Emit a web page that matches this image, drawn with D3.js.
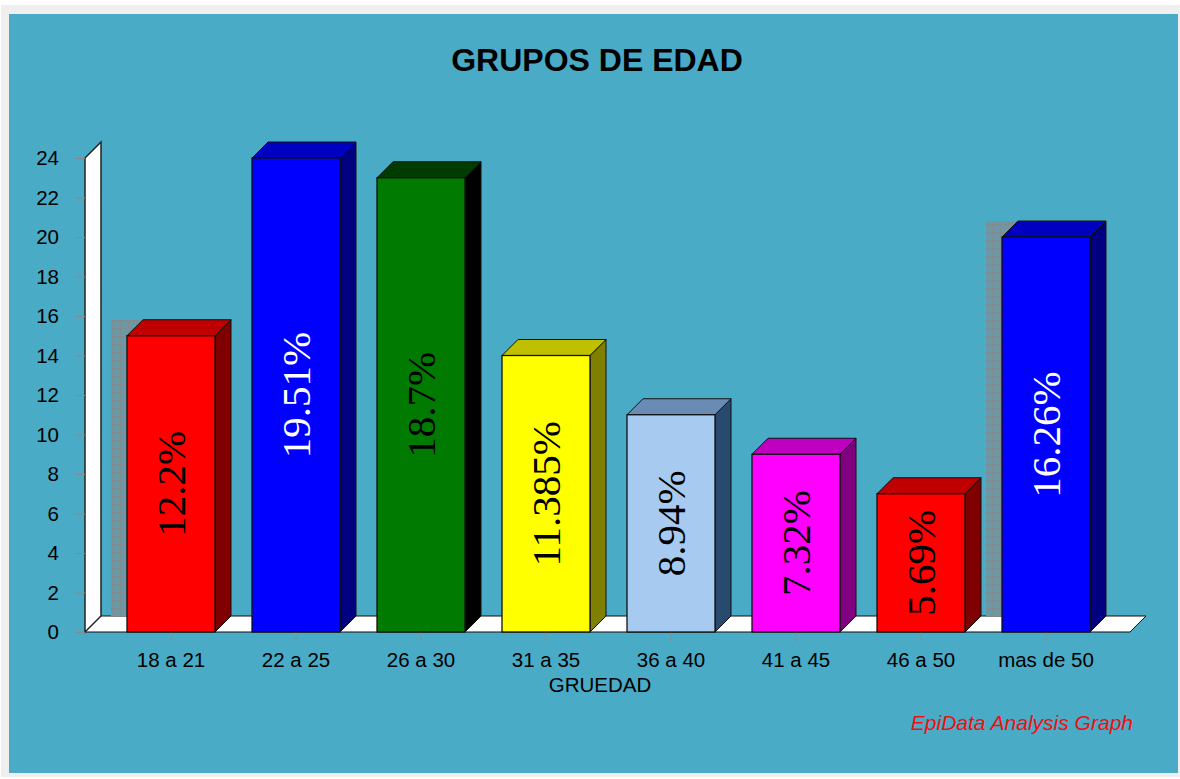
<!DOCTYPE html>
<html>
<head>
<meta charset="utf-8">
<script src="https://cdn.jsdelivr.net/npm/d3@7"></script>
<style>
  html, body { margin: 0; padding: 0; background: #ffffff; }
  svg { display: block; }
</style>
</head>
<body>
<svg id="chart" width="1180" height="779"></svg>
<script>
// data
const categories = ["18 a 21", "22 a 25", "26 a 30", "31 a 35", "36 a 40", "41 a 45", "46 a 50", "mas de 50"];
const counts = [15, 24, 23, 14, 11, 9, 7, 20];
const percentLabels = ["12.2%", "19.51%", "18.7%", "11.385%", "8.94%", "7.32%", "5.69%", "16.26%"];
const yTicks = [0, 2, 4, 6, 8, 10, 12, 14, 16, 18, 20, 22, 24];

// bar palette: front, top, side, label colour
const frontColors = ["#ff0000", "#0000ff", "#007a00", "#ffff00", "#a6caf0", "#ff00ff", "#ff0000", "#0000ff"];
const topColors = ["#c00000", "#0000c0", "#003c00", "#c0c000", "#6a8cb4", "#c000c0", "#c00000", "#0000c0"];
const sideColors = ["#800000", "#000080", "#000000", "#808000", "#284a6e", "#800080", "#800000", "#000080"];
const labelColors = ["#000", "#fff", "#000", "#000", "#000", "#000", "#000", "#fff"];

const svg = d3.select("#chart");
const depth = 16;
const floorY = 632;

// frame
svg.append("rect").attr("x", 1).attr("y", 5).attr("width", 1179).attr("height", 772).attr("fill", "#efefef");
svg.append("rect").attr("x", 9).attr("y", 14).attr("width", 1169).attr("height", 759).attr("fill", "#4aabc6");

svg.append("text")
    .attr("x", 597).attr("y", 71)
    .attr("text-anchor", "middle")
    .style("font-family", "'Liberation Sans', Arial, sans-serif")
    .style("font-weight", "bold")
    .style("font-size", "32px")
    .text("GRUPOS DE EDAD");

const x = d3.scaleBand()
    .domain(categories)
    .range([108.5, 1108.5])
    .paddingInner(0.296)
    .paddingOuter(0.148);

const y = d3.scaleLinear()
    .domain([0, 24])
    .range([floorY, 158]);

const line = d3.line();

// floor
svg.append("path")
    .attr("d", line([[85, floorY], [85 + depth, floorY - depth], [1130 + depth, floorY - depth], [1130, floorY]]) + "Z")
    .attr("fill", "#fff").attr("stroke", "#111").attr("stroke-width", 1);

// left wall
svg.append("path")
    .attr("d", line([[85, floorY], [85, y(24)], [85 + depth, y(24) - depth], [85 + depth, floorY - depth]]) + "Z")
    .attr("fill", "#fff").attr("stroke", "#222").attr("stroke-width", 1.5);

// y axis
const yAxis = svg.append("g")
    .attr("transform", "translate(85,0)")
    .call(d3.axisLeft(y).tickValues(yTicks).tickSize(10).tickPadding(16));
yAxis.select(".domain").remove();
yAxis.selectAll(".tick line").attr("stroke", "#8a8a8a");
yAxis.selectAll(".tick text")
    .attr("fill", "#000")
    .style("font-family", "'Liberation Sans', Arial, sans-serif")
    .style("font-size", "20.5px");

// x axis
const xAxis = svg.append("g")
    .attr("transform", `translate(0,${floorY})`)
    .call(d3.axisBottom(x).tickSize(10).tickPadding(10));
xAxis.select(".domain").remove();
xAxis.selectAll(".tick line").attr("stroke", "#8a8a8a");
xAxis.selectAll(".tick text")
    .attr("fill", "#000")
    .style("font-family", "'Liberation Sans', Arial, sans-serif")
    .style("font-size", "20.5px");

svg.append("text")
    .attr("x", 600).attr("y", 692)
    .attr("text-anchor", "middle")
    .style("font-family", "'Liberation Sans', Arial, sans-serif")
    .style("font-size", "20.5px")
    .text("GRUEDAD");

// shadow pattern on the back plane
const defs = svg.append("defs");
const pat = defs.append("pattern")
    .attr("id", "shade").attr("patternUnits", "userSpaceOnUse")
    .attr("width", 8).attr("height", 8);
pat.append("rect").attr("width", 8).attr("height", 8).attr("fill", "#6a98a6");
pat.append("path").attr("d", "M0,0.5H8M0.5,0V8").attr("stroke", "#808c90").attr("stroke-width", 1);

const bars = categories.map((c, i) => ({ cat: c, value: counts[i], label: percentLabels[i], i }));
const w = x.bandwidth();

svg.selectAll(".shadow")
    .data(bars.filter(d => d.i === 0 || d.i === bars.length - 1))
    .join("rect")
    .attr("class", "shadow")
    .attr("x", d => x(d.cat) - depth)
    .attr("y", d => y(d.value) - depth)
    .attr("width", w)
    .attr("height", d => floorY - depth - (y(d.value) - depth))
    .attr("fill", "url(#shade)");

const g = svg.selectAll(".bar")
    .data(bars)
    .join("g")
    .attr("class", "bar");

g.append("path")
    .attr("d", d => {
        const x0 = x(d.cat) + w, yv = y(d.value);
        return line([[x0, yv], [x0 + depth, yv - depth], [x0 + depth, floorY - depth], [x0, floorY]]) + "Z";
    })
    .attr("fill", d => sideColors[d.i])
    .attr("stroke", "#111").attr("stroke-width", 1);

g.append("path")
    .attr("d", d => {
        const x0 = x(d.cat), yv = y(d.value);
        return line([[x0, yv], [x0 + depth, yv - depth], [x0 + w + depth, yv - depth], [x0 + w, yv]]) + "Z";
    })
    .attr("fill", d => topColors[d.i])
    .attr("stroke", "#111").attr("stroke-width", 1);

g.append("rect")
    .attr("x", d => x(d.cat))
    .attr("y", d => y(d.value))
    .attr("width", w)
    .attr("height", d => floorY - y(d.value))
    .attr("fill", d => frontColors[d.i])
    .attr("stroke", "#111").attr("stroke-width", 1.3);

g.append("text")
    .attr("transform", d => `translate(${x(d.cat) + w / 2},${(y(d.value) + floorY) / 2}) rotate(-90)`)
    .attr("text-anchor", "middle")
    .attr("dy", "0.34em")
    .attr("fill", d => labelColors[d.i])
    .style("font-family", "'Liberation Serif', 'Times New Roman', serif")
    .style("font-size", "41px")
    .text(d => d.label);

svg.append("text")
    .attr("x", 1133).attr("y", 730)
    .attr("text-anchor", "end")
    .attr("fill", "#ee1010")
    .style("font-family", "'Liberation Sans', Arial, sans-serif")
    .style("font-style", "italic")
    .style("font-size", "21px")
    .text("EpiData Analysis Graph");
</script>
</body>
</html>
